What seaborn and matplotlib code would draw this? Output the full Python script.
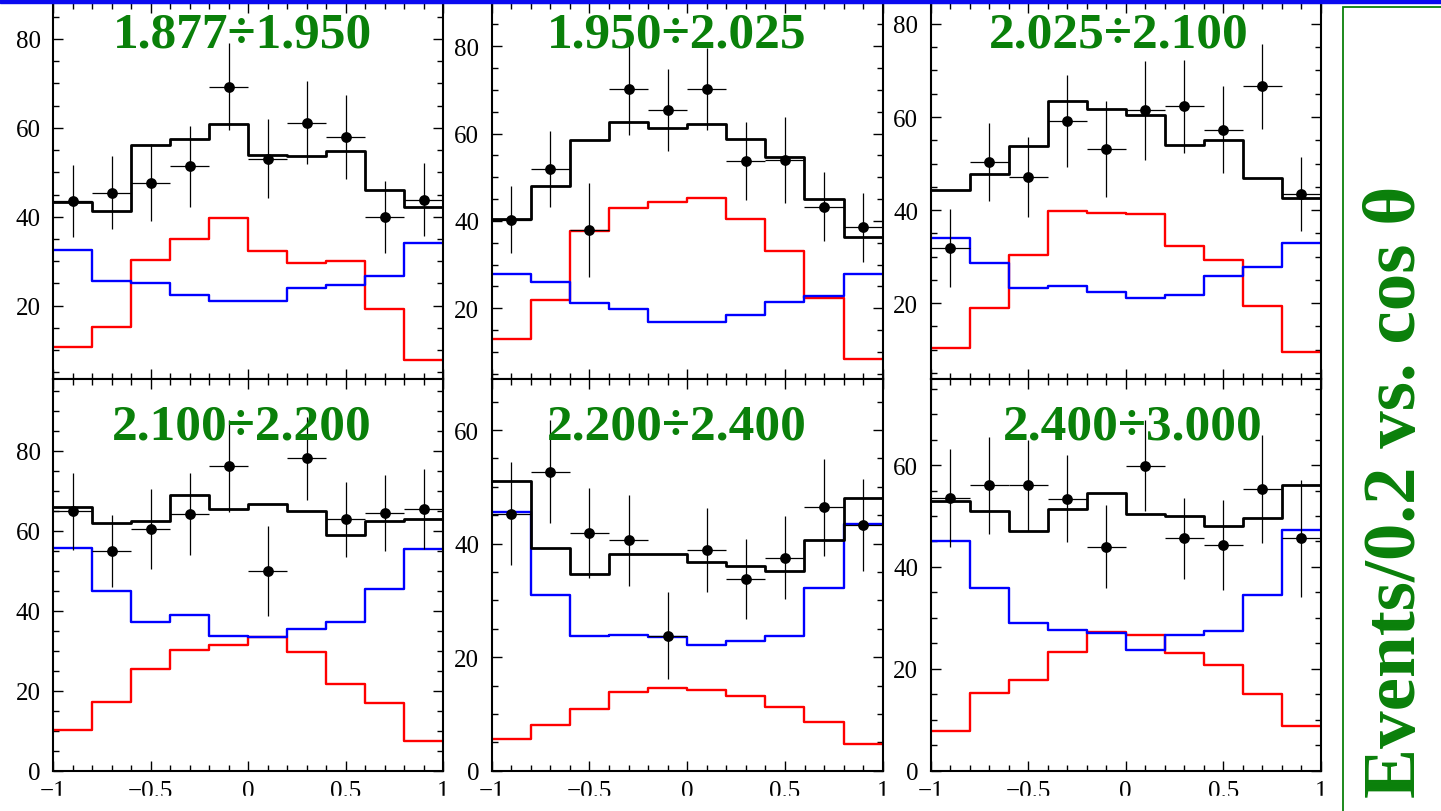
import numpy as np
import pandas as pd
import seaborn as sns
import matplotlib.pyplot as plt
from matplotlib.patches import Rectangle
from matplotlib.ticker import MultipleLocator

W, H = 1441, 812

mass_ranges = ["1.877÷1.950", "1.950÷2.025", "2.025÷2.100",
               "2.100÷2.200", "2.200÷2.400", "2.400÷3.000"]
cos_edges = [-1.0, -0.8, -0.6, -0.4, -0.2, 0.0, 0.2, 0.4, 0.6, 0.8, 1.0]
cos_centers = [-0.9, -0.7, -0.5, -0.3, -0.1, 0.1, 0.3, 0.5, 0.7, 0.9]

# black: total fit
total_fit = [
    [43.4, 41.4, 56.1, 57.5, 60.9, 54.0, 53.7, 54.9, 46.1, 42.1],
    [40.5, 47.9, 58.5, 62.7, 61.2, 62.2, 58.8, 54.7, 45.0, 36.3],
    [44.3, 47.7, 53.8, 63.5, 61.7, 60.4, 54.0, 55.1, 47.0, 42.5],
    [65.8, 62.0, 62.3, 69.0, 65.3, 66.7, 64.9, 59.0, 62.3, 62.8],
    [51.1, 39.2, 34.7, 38.1, 38.1, 36.8, 36.0, 35.1, 40.7, 48.1],
    [52.9, 51.0, 47.0, 51.3, 54.6, 50.4, 50.0, 48.1, 49.6, 56.1],
]
# red component
red_comp = [
    [10.8, 15.3, 30.3, 35.1, 39.7, 32.4, 29.5, 30.0, 19.2, 7.8],
    [13.0, 21.8, 37.6, 42.9, 44.3, 45.3, 40.5, 33.1, 22.3, 8.4],
    [10.3, 18.9, 30.4, 39.7, 39.3, 39.1, 32.2, 29.2, 19.4, 9.5],
    [10.2, 17.1, 25.3, 30.2, 31.5, 33.3, 29.6, 21.7, 16.8, 7.3],
    [5.6, 8.1, 10.9, 13.9, 14.5, 14.3, 13.2, 11.2, 8.5, 4.7],
    [7.7, 15.3, 17.9, 23.3, 27.3, 26.6, 23.2, 20.7, 15.0, 8.7],
]
# blue component
blue_comp = [
    [32.5, 25.6, 25.2, 22.4, 21.1, 21.1, 24.0, 24.7, 26.7, 34.2],
    [27.9, 26.0, 21.1, 19.8, 16.9, 16.9, 18.5, 21.5, 22.9, 27.9],
    [34.1, 28.7, 23.2, 23.6, 22.5, 21.2, 21.7, 25.9, 27.7, 32.9],
    [55.6, 44.8, 37.1, 38.8, 33.7, 33.5, 35.5, 37.1, 45.4, 55.3],
    [45.5, 30.9, 23.7, 23.9, 23.5, 22.2, 22.8, 23.7, 32.2, 43.4],
    [45.1, 35.9, 28.9, 27.7, 27.1, 23.6, 26.6, 27.4, 34.4, 47.2],
]
# data points
data_y = [
    [43.5, 45.4, 47.7, 51.4, 69.3, 53.1, 61.2, 57.9, 39.9, 43.8],
    [40.3, 51.8, 37.9, 70.2, 65.4, 70.2, 53.7, 53.9, 43.2, 38.5],
    [31.9, 50.3, 47.1, 59.1, 53.1, 61.4, 62.3, 57.3, 66.6, 43.5],
    [64.8, 55.0, 60.5, 64.2, 76.2, 49.9, 78.1, 62.8, 64.4, 65.4],
    [45.3, 52.7, 41.9, 40.6, 23.8, 38.9, 33.8, 37.5, 46.4, 43.2],
    [53.6, 56.0, 56.0, 53.4, 44.0, 59.9, 45.6, 44.3, 55.3, 45.6],
]
data_err = [
    [8.1, 8.2, 8.7, 9.1, 9.7, 8.9, 9.4, 9.4, 8.1, 8.2],
    [7.6, 8.7, 10.7, 10.5, 9.3, 9.4, 8.9, 9.8, 7.9, 8.0],
    [8.4, 8.4, 8.6, 9.9, 10.3, 10.7, 10.0, 9.3, 9.1, 8.0],
    [9.7, 9.0, 10.0, 10.3, 11.5, 11.2, 10.4, 9.3, 9.5, 9.9],
    [9.1, 9.1, 7.9, 8.0, 7.6, 7.4, 7.1, 7.3, 8.5, 8.1],
    [9.6, 9.5, 9.0, 8.5, 8.2, 8.9, 7.9, 8.9, 10.6, 11.5],
]

y_limits = [(3.5, 88.1), (3.8, 89.9), (3.7, 84.5), (0, 97.9), (0, 69.0), (0, 76.9)]
y_ticks = [[20, 40, 60, 80], [20, 40, 60, 80], [20, 40, 60, 80],
           [0, 20, 40, 60, 80], [0, 20, 40, 60], [0, 20, 40, 60]]

# panel frames in pixels: left, top, right, bottom
panel_px = [(53.3, 4, 443, 380), (491.7, 4, 882.7, 380), (930.7, 4, 1320.7, 380),
            (53.3, 380, 443, 771.7), (491.7, 380, 882.7, 771.7), (930.7, 380, 1320.7, 771.7)]
title_px = [(242.5, 47), (677, 47), (1119, 47), (241.7, 440), (676.7, 440), (1133, 440)]

GREEN = "#0a800a"

sns.set_style("ticks")
plt.rcParams["font.family"] = ["Liberation Serif", "DejaVu Serif"]

fig = plt.figure(figsize=(W / 100, H / 100), dpi=100)

for i in range(6):
    l, t, r, b = panel_px[i]
    ax = fig.add_axes([l / W, 1 - b / H, (r - l) / W, (b - t) / H])
    ax.set_facecolor("white")

    for vals, col, lw in [(red_comp[i], "#ff0000", 1.7), (blue_comp[i], "#0000ff", 1.7),
                          (total_fit[i], "black", 2.0)]:
        df = pd.DataFrame({"cos": cos_centers, "n": vals})
        sns.histplot(data=df, x="cos", weights="n", bins=cos_edges, element="step",
                     fill=False, color=col, linewidth=lw, ax=ax)

    ax.errorbar(cos_centers, data_y[i], xerr=0.1, yerr=data_err[i], fmt="none",
                ecolor="black", elinewidth=0.9, capsize=0, zorder=4)
    pts = pd.DataFrame({"cos": cos_centers, "y": data_y[i]})
    sns.scatterplot(data=pts, x="cos", y="y", color="black", s=60,
                    edgecolor="black", linewidth=0, zorder=5, ax=ax)

    ax.set_xlim(-1, 1)
    ax.set_ylim(*y_limits[i])
    ax.set_yticks(y_ticks[i])
    ax.set_xticks([-1, -0.5, 0, 0.5, 1])
    ax.set_xticklabels(["\u22121", "\u22120.5", "0", "0.5", "1"])
    ax.xaxis.set_minor_locator(MultipleLocator(0.1))
    ax.yaxis.set_minor_locator(MultipleLocator(5))
    ax.tick_params(which="both", direction="in", top=True, right=True,
                   width=1.0, labelsize=18, pad=9, colors="black")
    ax.tick_params(which="major", length=7)
    ax.tick_params(which="minor", length=4.5)
    ax.tick_params(axis="x", labelbottom=(i >= 3), pad=7)
    ax.set_xlabel("")
    ax.set_ylabel("")
    for sp in ax.spines.values():
        sp.set_linewidth(1.5)
        sp.set_color("black")

    tx, ty = title_px[i]
    fig.text(tx / W, 1 - ty / H, mass_ranges[i], ha="center", va="baseline",
             fontsize=37, fontweight="bold", color=GREEN, zorder=20)

# blue bar at top
fig.add_artist(Rectangle((0, 1 - 4 / H), 1, 4 / H, transform=fig.transFigure,
                         color="#0a0af0", zorder=30))
# bottom strip cut off
fig.add_artist(Rectangle((0, 0), 1336 / W, 15 / H, transform=fig.transFigure,
                         color="white", zorder=30))
# green framed label
fig.add_artist(Rectangle((1343 / W, -0.05), 0.2, 1.05 - 8 / H, transform=fig.transFigure,
                         fill=False, edgecolor=GREEN, linewidth=1.3, zorder=30))
fig.text(1397 / W, 1 - 492 / H, "Events/0.2 vs. cos θ", rotation=90, ha="center",
         va="center", fontsize=54, fontweight="bold", color=GREEN, zorder=31)

fig.savefig("out.png", dpi=100, facecolor="white")
